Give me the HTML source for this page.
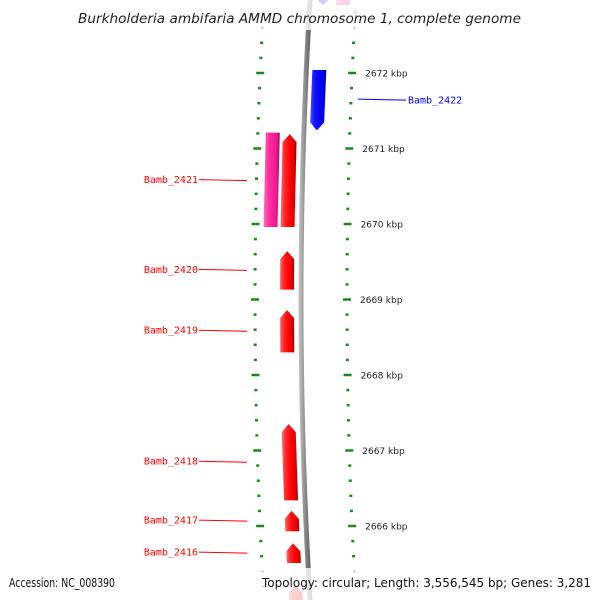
<!DOCTYPE html>
<html><head><meta charset="utf-8"><style>
html,body{margin:0;padding:0;background:#fff;}
svg{display:block;}
</style></head><body>
<svg id="map" width="600" height="600" viewBox="0 0 600 600" xmlns="http://www.w3.org/2000/svg">
<defs>
<linearGradient id="gRed" x1="0" x2="1" y1="0" y2="0">
<stop offset="0" stop-color="#ff7070"/><stop offset="0.25" stop-color="#ff2a2a"/><stop offset="0.6" stop-color="#ff0000"/><stop offset="0.85" stop-color="#e00000"/><stop offset="1" stop-color="#900000"/></linearGradient>
<linearGradient id="gBlue" x1="0" x2="1" y1="0" y2="0">
<stop offset="0" stop-color="#5050ff"/><stop offset="0.3" stop-color="#1010ff"/><stop offset="0.8" stop-color="#0000f0"/><stop offset="1" stop-color="#000090"/></linearGradient>
<linearGradient id="gPink" x1="0" x2="1" y1="0" y2="0">
<stop offset="0" stop-color="#ff70c0"/><stop offset="0.3" stop-color="#ff30a0"/><stop offset="0.8" stop-color="#f01890"/><stop offset="1" stop-color="#901058"/></linearGradient>
<linearGradient id="gGray" x1="0" x2="1" y1="0" y2="0">
<stop offset="0" stop-color="#c8c8c8"/><stop offset="0.5" stop-color="#888"/><stop offset="1" stop-color="#505050"/></linearGradient>
</defs>
<g id="ticks"></g>
<g id="bb"></g>
<g id="feats"></g>
<g id="labels"></g>
<rect x="0" y="0" width="600" height="30" fill="#fff" opacity="0.8"/>
<rect x="0" y="568" width="600" height="32" fill="#fff" opacity="0.8"/>
<text x="78" y="23" textLength="443" lengthAdjust="spacingAndGlyphs" font-family="'DejaVu Sans',sans-serif" font-style="italic" font-size="13.5" fill="#222">Burkholderia ambifaria AMMD chromosome 1, complete genome</text>
<text x="9" y="587" textLength="106" lengthAdjust="spacingAndGlyphs" font-family="'DejaVu Sans',sans-serif" font-size="12" fill="#111">Accession: NC_008390</text>
<text x="262" y="587" textLength="329" lengthAdjust="spacingAndGlyphs" font-family="'DejaVu Sans',sans-serif" font-size="12" fill="#111">Topology: circular; Length: 3,556,545 bp; Genes: 3,281</text>
</svg>
<script>
const majorTicks=[2672,2671,2670,2669,2668,2667,2666];
const geneNames=["Bamb_2422","Bamb_2421","Bamb_2420","Bamb_2419","Bamb_2418","Bamb_2417","Bamb_2416","top_rev","bottom_fwd"];
const geneStart=[2671.24,2669.96,2669.13,2668.30,2666.34,2665.93,2665.51,2672.90,2664.80];
const geneEnd=[2672.04,2671.19,2669.64,2668.86,2667.35,2666.20,2665.77,2673.10,2665.22];
const geneStrand=[-1,1,1,1,1,1,1,-1,1];
const geneLabeled=[1,1,1,1,1,1,1,0,0];
const otherStart=[2669.96,2672.90];
const otherEnd=[2671.21,2673.10];
const NS="http://www.w3.org/2000/svg";
const Y=k=>73+(2672-k)*75.5;
const DX=y=>1.0e-4*(y-300)*(y-300);
function el(tag,attrs,parent){const e=document.createElementNS(NS,tag);for(const k in attrs)e.setAttribute(k,attrs[k]);parent.appendChild(e);return e;}
const T=document.getElementById('ticks'),B=document.getElementById('bb'),F=document.getElementById('feats'),L=document.getElementById('labels');
for(let i=0;i<=45;i++){
  const k=2673-i*0.2; const y=Y(k); if(y<-5||y>605)continue;
  const major=Math.abs(k-Math.round(k))<1e-6;
  const w=major?8:3, h=2.5;
  const lx=255+DX(y), rx=347+DX(y);
  const a=el('rect',{x:lx-w/2,y:y-h/2,width:w,height:h,fill:'#1a8a1a'},T);
  
  
  const b=el('rect',{x:rx-w/2,y:y-h/2,width:w,height:h,fill:'#1a8a1a'},T);
  
  
}
majorTicks.forEach(k=>{const y=Y(k);
  const t=el('text',{x:360+DX(y),y:y+3.5,'font-family':"'DejaVu Sans',sans-serif",'font-size':'9',fill:'#222'},T);
  t.textContent=k+' kbp';
  
  
});
let d='';for(let y=-5;y<=605;y+=5){const x=301+DX(y);d+=(y===-5?'M':'L')+(x-2.5)+','+y;}
for(let y=605;y>=-5;y-=5){const x=301+DX(y);d+='L'+(x+2.5)+','+y;}
const bp=el('path',{d:d+'Z',fill:'url(#gGray)'},B);


function feature(s,e,strand,x0,w,fill,name){
  const yt=Y(e), yb=Y(s); const head=Math.min(8,(yb-yt)*0.4);
  const sx=y=>x0+DX(y);
  let pts;
  if(strand>0){pts=[[sx(yb),yb],[sx(yt+head),yt+head],[sx(yt)+w/2,yt],[sx(yt+head)+w,yt+head],[sx(yb)+w,yb]];}
  else if(strand<0){pts=[[sx(yt),yt],[sx(yt)+w,yt],[sx(yb-head)+w,yb-head],[sx(yb)+w/2,yb],[sx(yb-head),yb-head]];}
  else {pts=[[sx(yt),yt],[sx(yt)+w,yt],[sx(yb)+w,yb],[sx(yb),yb]];}
  const p=el('polygon',{points:pts.map(q=>q.join(',')).join(' '),fill:fill},F);
  
  
  return {y:(yt+yb)/2};
}
otherStart.forEach((s,i)=>{feature(s,otherEnd[i],0,i===0?263:327,14,'url(#gPink)','other-feature');});
geneNames.forEach((n,i)=>{
  const fwd=geneStrand[i]>0;
  const r=feature(geneStart[i],geneEnd[i],geneStrand[i],fwd?280:307,14,fwd?'url(#gRed)':'url(#gBlue)','gene-'+n.toLowerCase());
  if(!geneLabeled[i])return;
  const y=r.y;
  if(fwd){
    const ln=el('line',{x1:199,y1:y-1,x2:247,y2:y,stroke:'#f00','stroke-width':1},L);
    
    
    const t=el('text',{x:198,y:y+2.5,'text-anchor':'end','font-family':"'DejaVu Sans Mono',monospace",'font-size':'10',fill:'#f00'},L);
    t.textContent=n;
    
    
  } else {
    const ln=el('line',{x1:358,y1:y-1,x2:406,y2:y,stroke:'#00f','stroke-width':1},L);
    
    
    const t=el('text',{x:408,y:y+3.5,'font-family':"'DejaVu Sans Mono',monospace",'font-size':'10',fill:'#00f'},L);
    t.textContent=n;
    
    
  }
});
</script>
</body></html>
